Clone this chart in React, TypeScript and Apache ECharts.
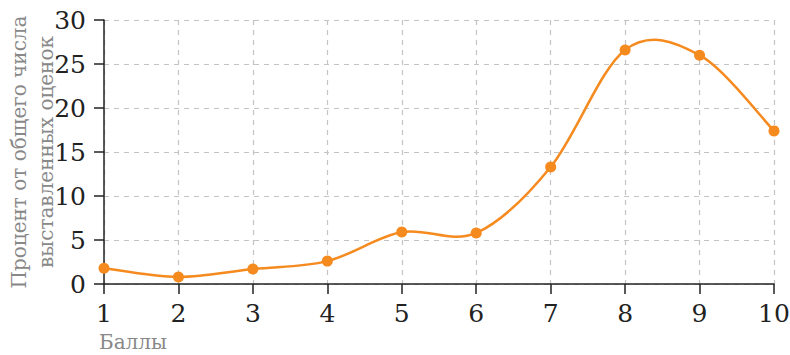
import React, { useEffect, useRef } from "react";
import * as echarts from "echarts";

const categories = ["1", "2", "3", "4", "5", "6", "7", "8", "9", "10"];
const percentValues = [1.8, 0.8, 1.7, 2.6, 5.9, 5.8, 13.3, 26.6, 26.0, 17.4];
const yTickLabels = ["0", "5", "10", "15", "20", "25", "30"];
const yAxisName = "Процент от общего числа\nвыставленных оценок";
const xAxisName = "Баллы";

const LINE_COLOR = "#f58a1f";

export default function App() {
  const ref = useRef<HTMLDivElement>(null);
  useEffect(() => {
    if (!ref.current) return;
    const chart = echarts.init(ref.current, undefined, { renderer: "svg" });
    const serif = "DejaVu Serif";
    const n = percentValues.length;
    chart.setOption({
      animation: false,
      grid: { left: 104, right: 16, top: 20, bottom: 71, containLabel: false, outerBoundsMode: "none" },
      xAxis: {
        type: "category",
        data: categories,
        boundaryGap: false,
        axisLine: { lineStyle: { color: "#222", width: 1.5 } },
        axisTick: { alignWithLabel: true, length: 10, lineStyle: { color: "#222", width: 1.5 } },
        axisLabel: { color: "#222", fontFamily: serif, fontSize: 25, margin: 17 },
        splitLine: { show: true, lineStyle: { color: "#c4c4c4", type: [5, 5], width: 1.2 } },
      },
      yAxis: {
        type: "value",
        min: 0,
        max: 30,
        interval: 5,
        axisLine: { show: true, lineStyle: { color: "#222", width: 1.5 } },
        axisTick: { show: true, length: 10, lineStyle: { color: "#222", width: 1.5 } },
        axisLabel: {
          color: "#222",
          fontFamily: serif,
          fontSize: 25,
          margin: 18,
          formatter: (v: number) => yTickLabels[Math.round(v / 5)] ?? String(v),
        },
        splitLine: { show: true, lineStyle: { color: "#c4c4c4", type: [5, 5], width: 1.2 } },
      },
      graphic: [
        {
          type: "text",
          x: 32,
          y: 152,
          rotation: Math.PI / 2,
          style: {
            text: yAxisName,
            fill: "#888",
            font: `20px "${serif}"`,
            lineHeight: 27,
            align: "center",
            verticalAlign: "middle",
          },
        },
        {
          type: "text",
          left: 99,
          top: 332,
          style: { text: xAxisName, fill: "#888", font: `20px "${serif}"` },
        },
      ],
      series: [
        {
          type: "custom",
          data: percentValues.map((v, i) => [i, v]),
          clip: false,
          z: 2,
          renderItem: (params: any, api: any) => {
            const i = params.dataIndex;
            if (i >= n - 1) return null;
            const pt = (k: number) => {
              const kk = Math.max(0, Math.min(n - 1, k));
              return api.coord([kk, percentValues[kk]]);
            };
            const p0 = pt(i - 1);
            const p1 = pt(i);
            const p2 = pt(i + 1);
            const p3 = pt(i + 2);
            const cp1 = [p1[0] + (p2[0] - p0[0]) / 6, p1[1] + (p2[1] - p0[1]) / 6];
            const cp2 = [p2[0] - (p3[0] - p1[0]) / 6, p2[1] - (p3[1] - p1[1]) / 6];
            return {
              type: "bezierCurve",
              shape: {
                x1: p1[0], y1: p1[1],
                x2: p2[0], y2: p2[1],
                cpx1: cp1[0], cpy1: cp1[1],
                cpx2: cp2[0], cpy2: cp2[1],
              },
              style: { stroke: LINE_COLOR, lineWidth: 2.5, fill: null },
            };
          },
        },
        {
          type: "line",
          data: percentValues,
          symbol: "circle",
          symbolSize: 11,
          z: 3,
          lineStyle: { opacity: 0, width: 0 },
          itemStyle: { color: LINE_COLOR },
        },
      ],
    });
    return () => chart.dispose();
  }, []);
  return <div ref={ref} style={{ width: 790, height: 355, position: "absolute", left: 0, top: 0 }} />;
}
